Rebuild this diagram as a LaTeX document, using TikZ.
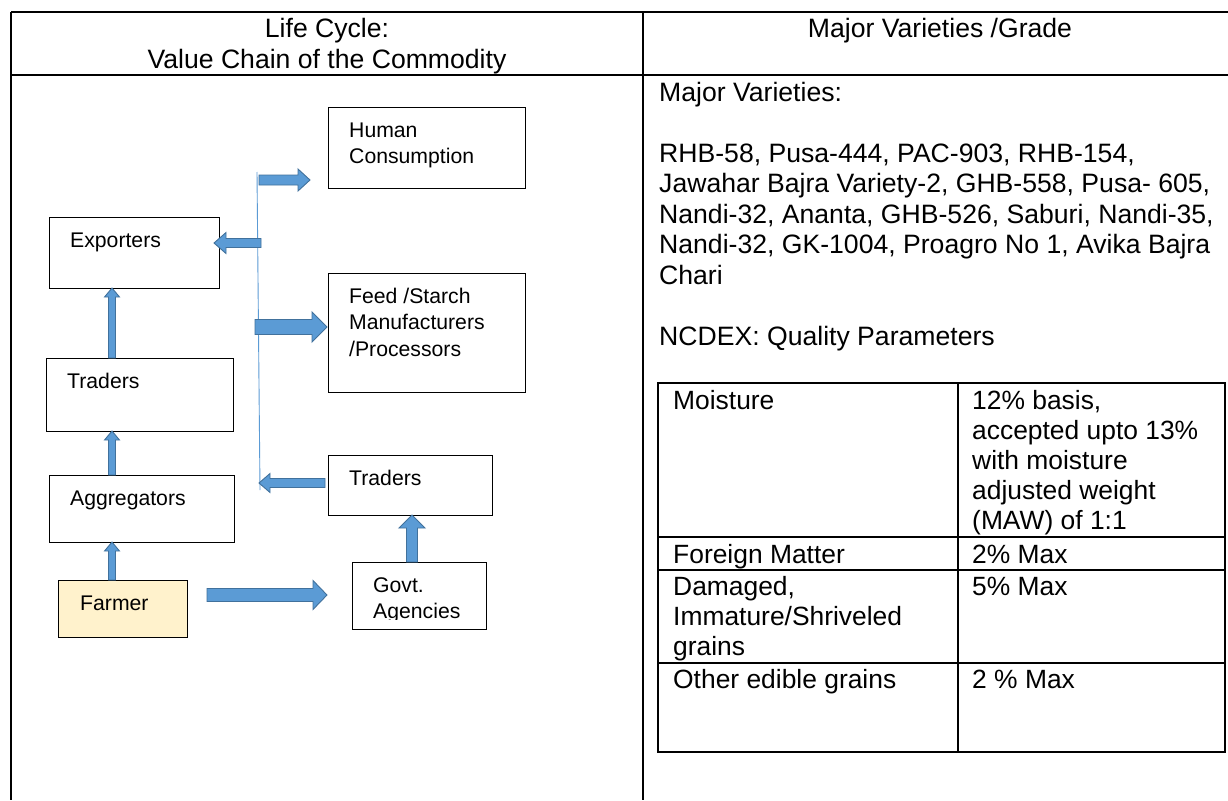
\documentclass[tikz,border=0pt]{standalone}
\usepackage{fontspec}
\setmainfont{Liberation Sans}
\usepackage{tikz}
\usetikzlibrary{calc}

\definecolor{flowfill}{HTML}{5B9BD5}
\definecolor{flowedge}{HTML}{41719C}
\definecolor{farmfill}{HTML}{FFF2CC}

\newcommand{\fatarrow}[5]{%
  \coordinate (neck) at ($(#2)!#5!(#1)$);
  \filldraw[flow] ($(#1)!#3!90:(#2)$) -- ($(neck)!#3!90:(#2)$) -- ($(neck)!#4!90:(#2)$)
    -- (#2) -- ($(neck)!#4!-90:(#2)$) -- ($(neck)!#3!-90:(#2)$) -- ($(#1)!#3!-90:(#2)$) -- cycle;
}

\begin{document}
\begin{tikzpicture}[x=1pt,y=-1pt,
    box/.style={draw,line width=0.9pt,anchor=north west,inner sep=0pt,outer sep=0pt},
    boxtext/.style={anchor=base west,align=left,inner sep=0pt,font=\fontsize{21.2}{26.7}\selectfont},
    flow/.style={fill=flowfill,draw=flowedge,line width=0.9pt},
    rule/.style={line width=1.7pt},
    cellrule/.style={line width=1.3pt},
    headtext/.style={anchor=base,align=center,inner sep=0pt,font=\fontsize{26.6}{30.5}\selectfont},
    bodytext/.style={anchor=base west,align=left,inner sep=0pt,font=\fontsize{26.6}{30.5}\selectfont},
    cell/.style={anchor=base west,align=left,inner sep=0pt,font=\fontsize{26.4}{30.2}\selectfont}]
    \useasboundingbox[fill=white] (0,0) rectangle (1228,800);

    \draw[rule] (11,12) -- (1228,12);
    \draw[rule] (11,75) -- (1228,75);
    \draw[rule] (11,12) -- (11,800);
    \draw[rule] (643,12) -- (643,800);
    \node[headtext] (lifehead) at (327,68) {Life Cycle:\\Value Chain of the Commodity};
    \node[headtext] (gradehead) at (940,37.5) {Major Varieties /Grade};

    \node[box,minimum width=197,minimum height=81] (human) at (328,107) {};
    \node[box,minimum width=170,minimum height=71] (expo) at (49,217) {};
    \node[box,minimum width=197,minimum height=119] (feed) at (328,273) {};
    \node[box,minimum width=187,minimum height=73] (trad) at (46,358) {};
    \node[box,minimum width=185,minimum height=67] (aggr) at (49,475) {};
    \node[box,minimum width=164,minimum height=60] (tradr) at (328,455) {};
    \node[box,fill=farmfill,minimum width=129,minimum height=57] (farm) at (58,580) {};
    \node[box,minimum width=134,minimum height=67] (govt) at (352,562) {};

    \node[boxtext] at ($(human.north west)+(21,56.7)$) {Human\\Consumption};
    \node[boxtext] at ($(expo.north west)+(21,30)$) {Exporters};
    \node[boxtext] at ($(feed.north west)+(21,83.4)$) {Feed /Starch\\Manufacturers\\/Processors};
    \node[boxtext] at ($(trad.north west)+(21,30)$) {Traders};
    \node[boxtext] at ($(aggr.north west)+(21,30)$) {Aggregators};
    \node[boxtext] at ($(tradr.north west)+(21,30)$) {Traders};
    \node[boxtext] at ($(farm.north west)+(22,30)$) {Farmer};
    \begin{scope}
        \clip (govt.north west) rectangle ($(govt.north east)+(0,57)$);
        \node[boxtext] at ($(govt.north west)+(21,56.7)$) {Govt.\\Agencies};
    \end{scope}

    \coordinate (trunktop) at (257,172);
    \coordinate (trunkbot) at (260,490);
    \draw[flowfill,line width=0.9pt] (trunktop) -- (trunkbot);

    \coordinate (humtail) at (259,180);
    \coordinate (humtip) at (310,180);
    \coordinate (expotail) at (261,243);
    \coordinate (expotip) at (214,243);
    \coordinate (feedtail) at (255,327);
    \coordinate (feedtip) at (327,327);
    \coordinate (govttail) at (207,595);
    \coordinate (govttip) at (327,595);
    \coordinate (backtail) at (325,483);
    \coordinate (backtip) at (259,483);
    \coordinate (leftup) at (112,0);
    \coordinate (rightup) at (412,0);
    \coordinate (up1tail) at (trad.north -| leftup);
    \coordinate (up1tip) at (expo.south -| leftup);
    \coordinate (up2tail) at (aggr.north -| leftup);
    \coordinate (up2tip) at (trad.south -| leftup);
    \coordinate (up3tail) at (farm.north -| leftup);
    \coordinate (up3tip) at (aggr.south -| leftup);
    \coordinate (up4tail) at (govt.north -| rightup);
    \coordinate (up4tip) at (tradr.south -| rightup);

    \fatarrow{humtail}{humtip}{5pt}{11pt}{12pt}
    \fatarrow{expotail}{expotip}{4.5pt}{10.5pt}{12pt}
    \fatarrow{feedtail}{feedtip}{7.5pt}{15pt}{15pt}
    \fatarrow{govttail}{govttip}{6.5pt}{14.5pt}{14pt}
    \fatarrow{backtail}{backtip}{4.5pt}{9.5pt}{11pt}
    \fatarrow{up1tail}{up1tip}{3.5pt}{7.5pt}{9pt}
    \fatarrow{up2tail}{up2tip}{3.5pt}{7.5pt}{9pt}
    \fatarrow{up3tail}{up3tip}{3.5pt}{7.5pt}{9pt}
    \fatarrow{up4tail}{up4tip}{5.5pt}{13pt}{13pt}

    \node[bodytext] (varhead) at (659,101) {Major Varieties:};
    \node[bodytext] (varlist) at (659,284) {RHB-58, Pusa-444, PAC-903, RHB-154,\\Jawahar Bajra Variety-2, GHB-558, Pusa- 605,\\Nandi-32, Ananta, GHB-526, Saburi, Nandi-35,\\Nandi-32, GK-1004, Proagro No 1, Avika Bajra\\Chari};
    \node[bodytext] (ncdex) at (659,345) {NCDEX: Quality Parameters};

    \draw[cellrule] (658,383) rectangle (1225,752);
    \draw[cellrule] (958,383) -- (958,752);
    \draw[cellrule] (658,537) -- (1225,537);
    \draw[cellrule] (658,570) -- (1225,570);
    \draw[cellrule] (658,663) -- (1225,663);
    \node[cell] (moist) at (673,409) {Moisture};
    \node[cell] (moistval) at (972,529.8) {12\% basis,\\accepted upto 13\%\\with moisture\\adjusted weight\\(MAW) of 1:1};
    \node[cell] (foreign) at (673,563) {Foreign Matter};
    \node[cell] (foreignval) at (972,563) {2\% Max};
    \node[cell] (damaged) at (673,655.4) {Damaged,\\Immature/Shriveled\\grains};
    \node[cell] (damagedval) at (972,595) {5\% Max};
    \node[cell] (other) at (673,688) {Other edible grains};
    \node[cell] (otherval) at (972,688) {2 \% Max};
\end{tikzpicture}
\end{document}
